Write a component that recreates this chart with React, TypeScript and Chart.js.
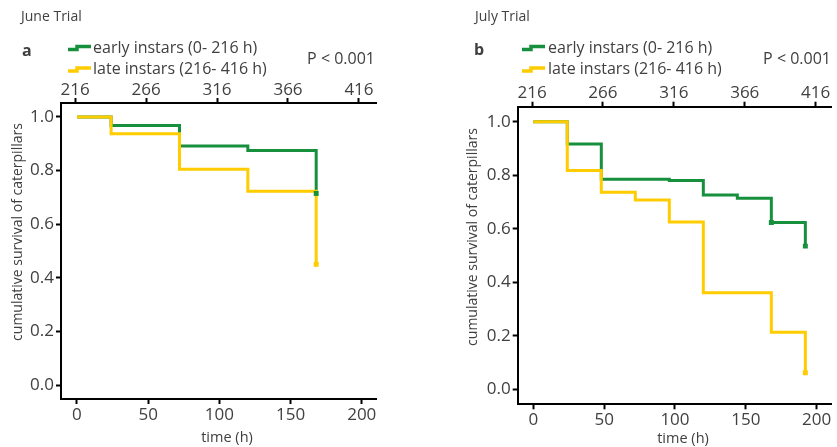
import { useEffect, useRef } from "react";
import { Chart, registerables } from "chart.js";

Chart.register(...registerables);

// ---------- data ----------
const juneTimes = [0, 24, 72, 120, 168];
const juneEarly = [1.0, 0.968, 0.892, 0.875, 0.715];
const juneLate = [1.0, 0.937, 0.805, 0.723, 0.451];
const juneEarlyCensored = [168];
const juneLateCensored = [168];

const julyTimes = [0, 24, 48, 72, 96, 120, 144, 168, 192];
const julyEarly = [1.0, 0.917, 0.785, 0.785, 0.78, 0.726, 0.714, 0.623, 0.535];
const julyLate = [1.0, 0.818, 0.736, 0.707, 0.625, 0.361, 0.361, 0.213, 0.062];
const julyEarlyCensored = [168, 192];
const julyLateCensored = [192];

const bottomTicks = [0, 50, 100, 150, 200];
const topTicks = [216, 266, 316, 366, 416];
const yTicks = [0, 0.2, 0.4, 0.6, 0.8, 1.0];
const seriesLabels = ["early instars (0- 216 h)", "late instars (216- 416 h)"];
const pText = "P < 0.001";
const yTitle = "cumulative survival of caterpillars";
const xTitle = "time (h)";

// ---------- styles ----------
const GREEN = "#17903e";
const YELLOW = "#ffcc00";
const TEXT = "#404040";
const FONT = "'Open Sans', 'Noto Sans', sans-serif";

type Panel = {
  title: string;
  letter: string;
  times: number[];
  early: number[];
  late: number[];
  earlyCens: number[];
  lateCens: number[];
  width: number;
  offsetX: number;
  area: { left: number; top: number; right: number; bottom: number };
  xRange: [number, number];
  topRange: [number, number];
  yRange: [number, number];
  txt: {
    titleX: number;
    letterX: number;
    letterY: number;
    iconX: number;
    labelX: number;
    pRight: number;
    yTitleX: number;
    yTitleY: number;
    xTitleX: number;
    xTitleY: number;
  };
};

const panels: Panel[] = [
  {
    title: "June Trial",
    letter: "a",
    times: juneTimes,
    early: juneEarly,
    late: juneLate,
    earlyCens: juneEarlyCensored,
    lateCens: juneLateCensored,
    width: 418,
    offsetX: 0,
    area: { left: 61, top: 103, right: 376, bottom: 399 },
    xRange: [-11.2, 210],
    topRange: [206.1, 428],
    yRange: [-0.051, 1.052],
    txt: {
      titleX: 21,
      letterX: 22,
      letterY: 51,
      iconX: 68,
      labelX: 93,
      pRight: 375,
      yTitleX: 18,
      yTitleY: 232,
      xTitleX: 227,
      xTitleY: 438,
    },
  },
  {
    title: "July Trial",
    letter: "b",
    times: julyTimes,
    early: julyEarly,
    late: julyLate,
    earlyCens: julyEarlyCensored,
    lateCens: julyLateCensored,
    width: 419,
    offsetX: 418,
    area: { left: 99.7, top: 106.7, right: 413.7, bottom: 404.3 },
    xRange: [-11, 210.6],
    topRange: [205.9, 427.3],
    yRange: [-0.056, 1.056],
    txt: {
      titleX: 57,
      letterX: 56,
      letterY: 50,
      iconX: 104,
      labelX: 130,
      pRight: 413,
      yTitleX: 55,
      yTitleY: 237,
      xTitleX: 265,
      xTitleY: 439,
    },
  },
];

const HEIGHT = 447;
const Y_W = 40;
const X_H = 30;

function textPlugin(p: Panel) {
  return {
    id: "panelText",
    afterDraw(chart: any) {
      const ctx = chart.ctx as CanvasRenderingContext2D;
      const t = p.txt;
      ctx.save();
      ctx.fillStyle = TEXT;
      ctx.textBaseline = "middle";
      ctx.textAlign = "left";
      ctx.font = `14px ${FONT}`;
      ctx.fillText(p.title, t.titleX, 17);
      ctx.font = `bold 16px ${FONT}`;
      ctx.fillText(p.letter, t.letterX, t.letterY);
      // legend
      const rows = [
        { color: GREEN, y: 48, label: seriesLabels[0] },
        { color: YELLOW, y: 69.5, label: seriesLabels[1] },
      ];
      rows.forEach((r) => {
        ctx.strokeStyle = r.color;
        ctx.lineWidth = 3.5;
        ctx.lineCap = "butt";
        ctx.lineJoin = "miter";
        ctx.beginPath();
        ctx.moveTo(t.iconX, r.y + 1.5);
        ctx.lineTo(t.iconX + 9, r.y + 1.5);
        ctx.lineTo(t.iconX + 9, r.y - 1.5);
        ctx.lineTo(t.iconX + 23, r.y - 1.5);
        ctx.stroke();
        ctx.fillStyle = TEXT;
        ctx.font = `16px ${FONT}`;
        ctx.fillText(r.label, t.labelX, r.y);
      });
      ctx.textAlign = "right";
      ctx.fillText(pText, t.pRight, 59);
      // axis titles
      ctx.textAlign = "center";
      ctx.font = `14.5px ${FONT}`;
      ctx.fillText(xTitle, t.xTitleX, t.xTitleY);
      ctx.save();
      ctx.translate(t.yTitleX, t.yTitleY);
      ctx.rotate(-Math.PI / 2);
      ctx.font = `14px ${FONT}`;
      ctx.fillText(yTitle, 0, 0);
      ctx.restore();
      ctx.restore();
    },
  };
}

function toPoints(times: number[], vals: number[]) {
  return times.map((x, i) => ({ x, y: vals[i] }));
}
function censorPoints(times: number[], vals: number[], cens: number[]) {
  return cens.map((c) => ({ x: c, y: vals[times.indexOf(c)] }));
}

function makeConfig(p: Panel): any {
  const a = p.area;
  const tickFont = { family: FONT, size: 17 };
  const gridCommon = {
    display: true,
    drawOnChartArea: false,
    drawTicks: true,
    tickLength: 5,
    tickWidth: 2,
    tickColor: "#000",
  };
  const borderCommon = { display: true, color: "#000", width: 2 };
  const xFit = (s: any, h: number) => {
    s.height = h;
    s.paddingLeft = 0;
    s.paddingRight = 0;
  };
  return {
    type: "line",
    data: {
      datasets: [
        {
          label: "censored",
          data: [
            ...censorPoints(p.times, p.early, p.earlyCens),
            ...censorPoints(p.times, p.late, p.lateCens),
          ],
          showLine: false,
          pointStyle: "rect",
          pointRadius: 3.5,
          pointBorderWidth: 0,
          pointBackgroundColor: [
            ...p.earlyCens.map(() => GREEN),
            ...p.lateCens.map(() => YELLOW),
          ],
          order: 0,
        },
        {
          label: seriesLabels[1],
          data: toPoints(p.times, p.late),
          borderColor: YELLOW,
          borderWidth: 3,
          stepped: true,
          pointRadius: 0,
          fill: false,
          order: 1,
        },
        {
          label: seriesLabels[0],
          data: toPoints(p.times, p.early),
          borderColor: GREEN,
          borderWidth: 3,
          stepped: true,
          pointRadius: 0,
          fill: false,
          order: 2,
        },
      ],
    },
    options: {
      animation: false,
      responsive: false,
      events: [],
      layout: {
        padding: {
          left: a.left - Y_W,
          right: p.width - a.right,
          top: a.top - X_H,
          bottom: HEIGHT - a.bottom - X_H,
        },
      },
      plugins: {
        legend: { display: false },
        tooltip: { enabled: false },
        title: { display: false },
      },
      scales: {
        x: {
          type: "linear",
          position: "bottom",
          min: p.xRange[0],
          max: p.xRange[1],
          afterBuildTicks: (s: any) => {
            s.ticks = bottomTicks.map((v) => ({ value: v }));
          },
          afterFit: (s: any) => xFit(s, X_H),
          grid: gridCommon,
          border: borderCommon,
          ticks: {
            font: tickFont,
            color: TEXT,
            padding: 1,
            maxRotation: 0,
            autoSkip: false,
            callback: (v: number) => String(v),
          },
        },
        x2: {
          type: "linear",
          position: "top",
          min: p.topRange[0],
          max: p.topRange[1],
          afterBuildTicks: (s: any) => {
            s.ticks = topTicks.map((v) => ({ value: v }));
          },
          afterFit: (s: any) => xFit(s, X_H),
          grid: gridCommon,
          border: borderCommon,
          ticks: {
            font: tickFont,
            color: TEXT,
            padding: -2,
            maxRotation: 0,
            autoSkip: false,
            callback: (v: number) => String(v),
          },
        },
        y: {
          type: "linear",
          position: "left",
          min: p.yRange[0],
          max: p.yRange[1],
          afterBuildTicks: (s: any) => {
            s.ticks = yTicks.map((v) => ({ value: v }));
          },
          afterFit: (s: any) => {
            s.width = Y_W;
            s.paddingTop = 0;
            s.paddingBottom = 0;
          },
          grid: gridCommon,
          border: borderCommon,
          ticks: {
            font: tickFont,
            color: TEXT,
            padding: 2,
            autoSkip: false,
            callback: (v: number) => v.toFixed(1),
          },
        },
      },
    },
    plugins: [textPlugin(p)],
  };
}

function PanelChart({ p }: { p: Panel }) {
  const ref = useRef<HTMLCanvasElement | null>(null);
  useEffect(() => {
    if (!ref.current) return;
    const chart = new Chart(ref.current, makeConfig(p));
    return () => chart.destroy();
  }, [p]);
  return (
    <canvas
      ref={ref}
      width={p.width}
      height={HEIGHT}
      style={{
        position: "absolute",
        left: p.offsetX,
        top: 0,
        width: p.width,
        height: HEIGHT,
        display: "block",
      }}
    />
  );
}

export default function App() {
  return (
    <div
      style={{
        position: "fixed",
        left: 0,
        top: 0,
        width: 837,
        height: HEIGHT,
        background: "#fff",
        overflow: "hidden",
      }}
    >
      {panels.map((p) => (
        <PanelChart key={p.letter} p={p} />
      ))}
    </div>
  );
}
